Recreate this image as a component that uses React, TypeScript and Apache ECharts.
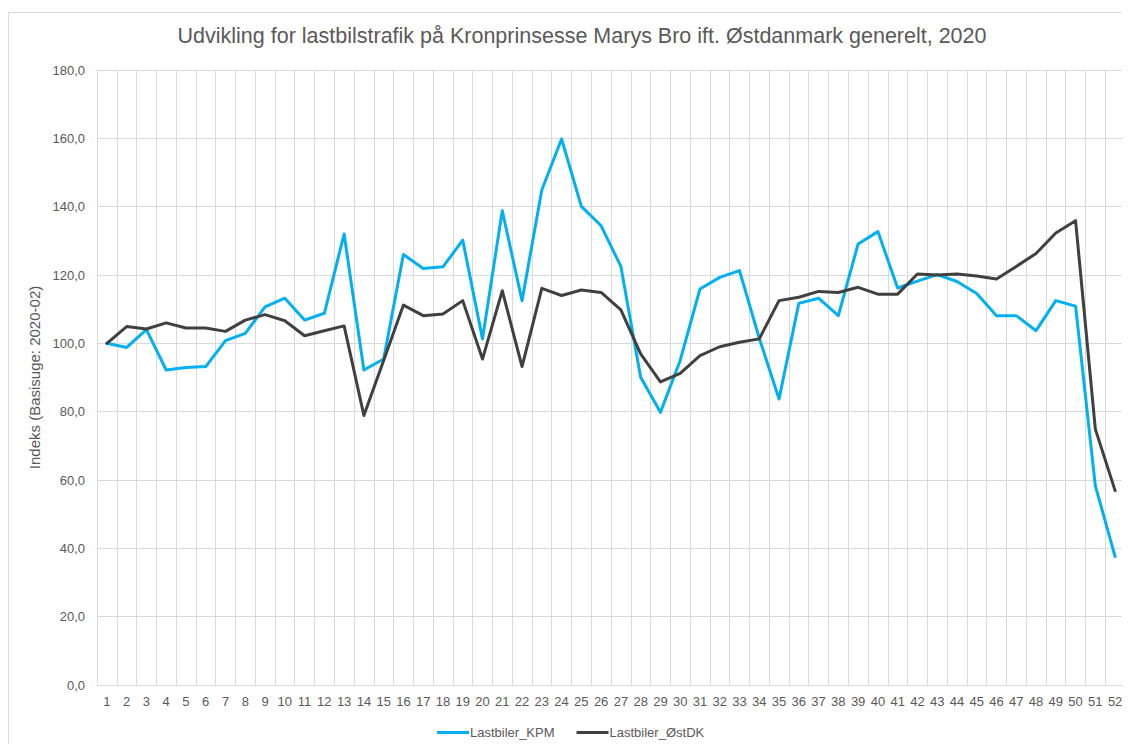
import React, { useEffect, useRef } from "react";
import * as echarts from "echarts";

const weeks: string[] = Array.from({ length: 52 }, (_, i) => String(i + 1));

const lastbilerKPM: number[] = [
  100, 98.8, 104.0, 92.2, 92.9, 93.2, 100.8, 102.9, 110.7, 113.2,
  106.8, 108.8, 132.0, 92.2, 95.4, 126.0, 121.9, 122.4, 130.2, 101.3,
  138.8, 112.5, 144.9, 159.8, 140.1, 134.4, 122.5, 90.1, 79.8, 95.0,
  115.9, 119.3, 121.3, 101.5, 83.7, 111.7, 113.2, 108.1, 129.1, 132.7,
  116.2, 118.2, 120.1, 118.1, 114.6, 108.1, 108.1, 103.7, 112.5, 110.9,
  58.3, 37.6,
];

const lastbilerOstDK: number[] = [
  100, 104.9, 104.2, 106.0, 104.5, 104.5, 103.5, 106.8, 108.4, 106.6,
  102.2, 103.7, 105.1, 78.9, 95.0, 111.2, 108.1, 108.6, 112.5, 95.4,
  115.4, 93.2, 116.1, 114.0, 115.6, 114.9, 109.8, 96.9, 88.7, 91.2,
  96.4, 99.0, 100.3, 101.3, 112.5, 113.5, 115.2, 114.9, 116.4, 114.4,
  114.4, 120.3, 120.0, 120.3, 119.7, 118.8, 122.5, 126.3, 132.3, 135.9,
  74.9, 56.9,
];

const seriesNames: string[] = ["Lastbiler_KPM", "Lastbiler_ØstDK"];
const titleText = "Udvikling for lastbilstrafik på Kronprinsesse Marys Bro ift. Østdanmark generelt, 2020";
const yAxisTitle = "Indeks (Basisuge: 2020-02)";

const FONT = "Arial, 'Liberation Sans', sans-serif";
const TEXT = "#595959";
const GRID = "#d9d9d9";

export default function App() {
  const ref = useRef<HTMLDivElement>(null);
  useEffect(() => {
    if (!ref.current) return;
    const chart = echarts.init(ref.current, null, { renderer: "svg" });
    chart.setOption({
      animation: false,
      backgroundColor: "#ffffff",
      textStyle: { fontFamily: FONT },
      graphic: [
        {
          type: "rect",
          shape: { x: 0.5, y: 4.5, width: 1200, height: 800 },
          style: { fill: "none", stroke: GRID, lineWidth: 1 },
          silent: true,
          z: -10,
        },
      ],
      title: {
        text: titleText,
        left: 569,
        textAlign: "center",
        top: 12,
        textStyle: { fontFamily: FONT, fontSize: 21.5, fontWeight: "normal", color: TEXT },
      },
      legend: {
        data: seriesNames,
        left: 424,
        top: 713,
        icon: "rect",
        itemWidth: 32,
        itemHeight: 3,
        itemGap: 22,
        textStyle: { fontFamily: FONT, fontSize: 13, color: TEXT, padding: [0, 0, 0, -4] },
      },
      grid: { left: 89, right: 5, top: 62, bottom: 59, containLabel: false },
      xAxis: {
        type: "category",
        data: weeks,
        boundaryGap: true,
        axisLine: { show: true, lineStyle: { color: GRID, width: 1 } },
        axisTick: { show: false },
        axisLabel: { interval: 0, color: TEXT, fontSize: 13, fontFamily: FONT, margin: 10 },
        splitLine: { show: true, interval: 0, lineStyle: { color: GRID, width: 1 } },
      },
      yAxis: {
        type: "value",
        min: 0,
        max: 180,
        interval: 20,
        name: yAxisTitle,
        nameLocation: "middle",
        nameGap: 52,
        nameRotate: 90,
        nameTextStyle: { color: TEXT, fontSize: 15, fontFamily: FONT },
        axisLine: { show: false },
        axisTick: { show: false },
        axisLabel: {
          color: TEXT,
          fontSize: 13,
          fontFamily: FONT,
          margin: 12,
          formatter: (v: number) => v.toFixed(1).replace(".", ","),
        },
        splitLine: { show: true, lineStyle: { color: GRID, width: 1 } },
      },
      series: [
        {
          name: seriesNames[0],
          type: "line",
          data: lastbilerKPM,
          symbol: "none",
          itemStyle: { color: "#00b0f0" },
          lineStyle: { color: "#00b0f0", width: 3, join: "round", cap: "round" },
          z: 2,
        },
        {
          name: seriesNames[1],
          type: "line",
          data: lastbilerOstDK,
          symbol: "none",
          itemStyle: { color: "#404040" },
          lineStyle: { color: "#404040", width: 3, join: "round", cap: "round" },
          z: 3,
        },
      ],
    });
    return () => chart.dispose();
  }, []);
  return <div ref={ref} style={{ width: 1122, height: 736 }} />;
}
